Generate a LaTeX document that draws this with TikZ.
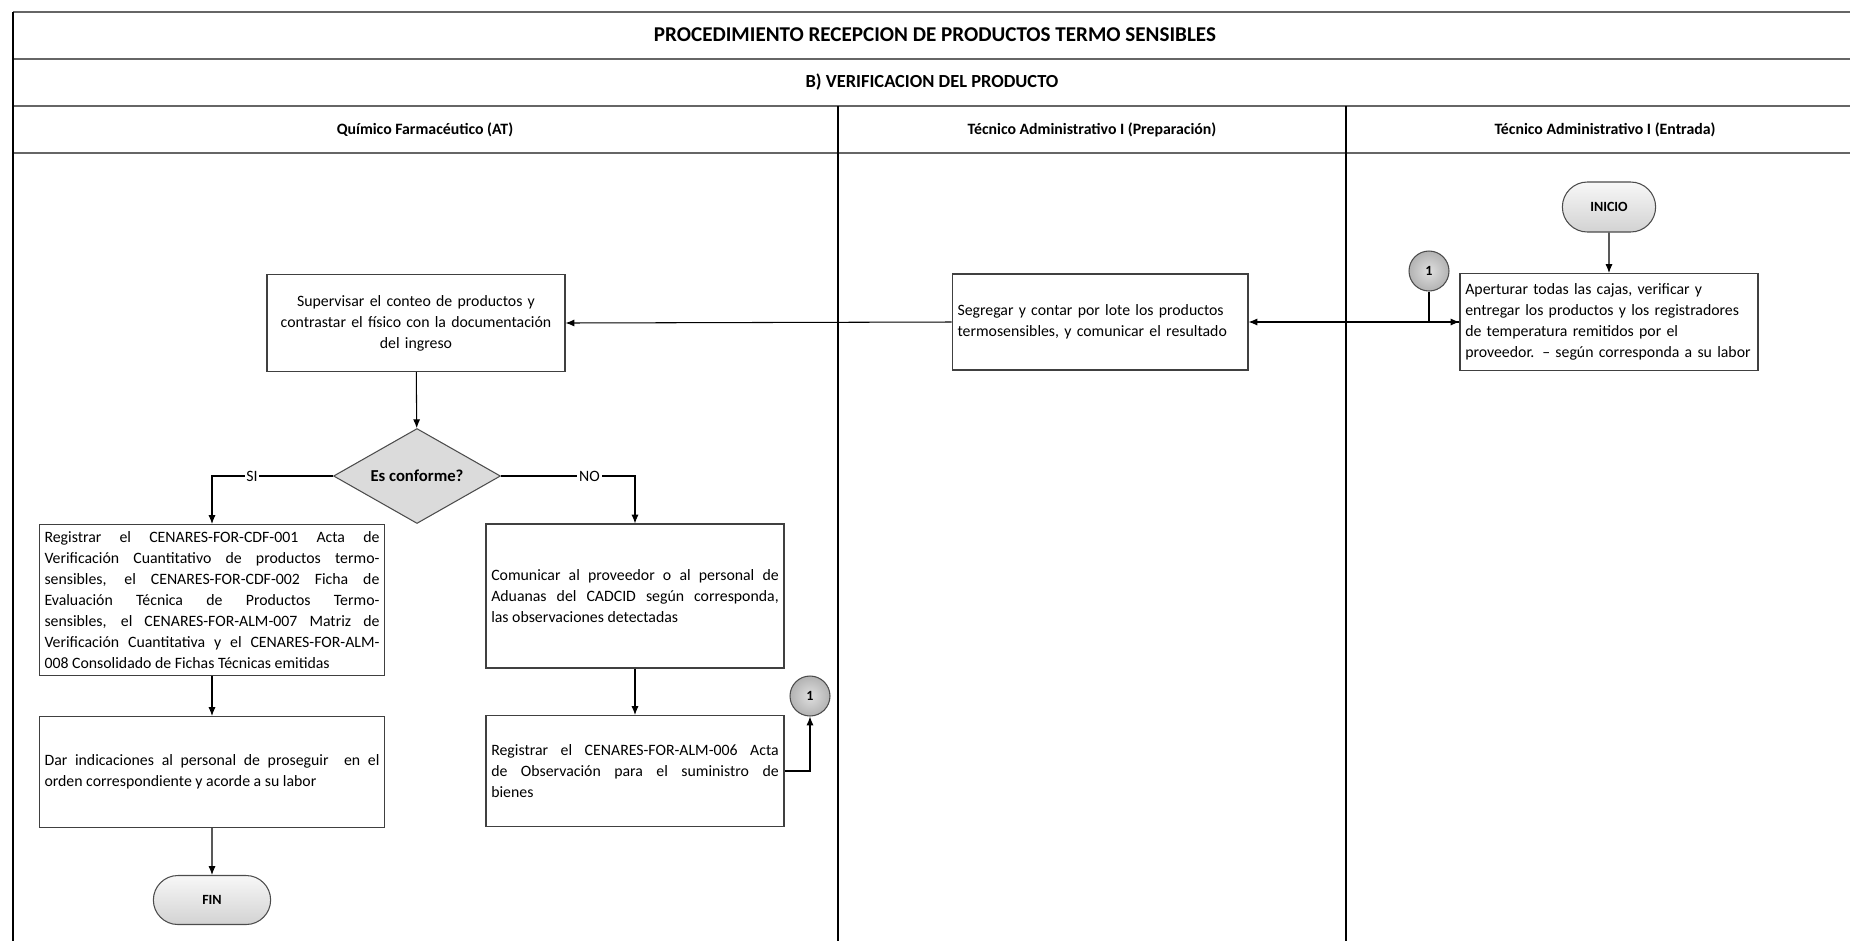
\documentclass[tikz,border=0pt]{standalone}
\usepackage{fontspec}
\setmainfont{Carlito}
\usetikzlibrary{positioning,arrows.meta,shapes.geometric,shapes.misc}

\begin{document}
\begin{tikzpicture}[x=0.02cm,y=-0.02cm,
    every node/.style={font=\fontsize{9}{12}\selectfont},
    proc/.style={draw=black!75,line width=0.6pt,inner sep=3pt},
    term/.style={rounded rectangle,draw=black!70,line width=0.6pt,top color=gray!6,bottom color=gray!35,
      font=\fontsize{8}{10}\selectfont\bfseries,minimum width=2.1cm,minimum height=1cm},
    decis/.style={diamond,aspect=1.9,draw=black!70,line width=0.6pt,fill=gray!28,inner sep=0pt,
      minimum width=3.34cm,minimum height=1.9cm},
    conn/.style={circle,draw=black!70,line width=0.6pt,inner color=gray!25,outer color=gray!60,
      minimum size=0.8cm,inner sep=0pt,font=\fontsize{8}{10}\selectfont\bfseries},
    lbl/.style={fill=white,inner sep=1pt},
    arr/.style={-{Latex[length=5pt,width=4pt]},line width=0.6pt},
    hd/.style={font=\fontsize{9}{11}\selectfont\bfseries}]
  \useasboundingbox (0,0) rectangle (1850,941);
  \foreach \y in {12,59,106,153}
    \draw[line width=1.6pt,black!60] (13,\y) -- (1850,\y);
  \draw[line width=0.9pt] (13,12) -- (13,941);
  \foreach \x in {838,1346}
    \draw[line width=0.8pt] (\x,106) -- (\x,941);
  \node[hd,font=\fontsize{12}{14}\selectfont\bfseries] (tit) at (935,35) {PROCEDIMIENTO RECEPCION DE PRODUCTOS TERMO SENSIBLES};
  \node[hd,font=\fontsize{10.5}{12}\selectfont\bfseries] (sub) at (932,82) {B) VERIFICACION DEL PRODUCTO};
  \node[hd] (lane1) at (425,130) {Químico Farmacéutico (AT)};
  \node[hd] (lane2) at (1092,130) {Técnico Administrativo I (Preparación)};
  \node[hd] (lane3) at (1605,130) {Técnico Administrativo I (Entrada)};

  \node[term] (ini) at (1609,207) {INICIO};
  \node[proc,minimum width=5.96cm,minimum height=1.94cm,text width=5.75cm,align=left] (apert) at (1609,322)
    {Aperturar todas las cajas, verificar y\\entregar los productos y los registradores\\de temperatura remitidos por el\\proveedor. -- según corresponda a su labor};
  \node[conn] (c1a) at (1429,271) {1};
  \node[proc,minimum width=5.92cm,minimum height=1.92cm,text width=5.7cm,align=left] (segr) at (1100,322)
    {Segregar y contar por lote los productos\\termosensibles, y comunicar el resultado};
  \node[proc,minimum width=5.94cm,minimum height=1.94cm,text width=5.75cm,align=center] (superv) at (416,323)
    {Supervisar el conteo de productos y\\contrastar el físico con la documentación\\del ingreso};
  \node[decis,font=\fontsize{9.5}{11}\selectfont\bfseries] (conf) at (417,476) {Es conforme?};
  \node[proc,minimum width=6.82cm,minimum height=3.02cm,text width=6.7cm,align=justify] (regA) at (212,600)
    {Registrar el CENARES-FOR-CDF-001 Acta de\linebreak Verificación Cuantitativo de productos termo-\linebreak sensibles, el CENARES-FOR-CDF-002 Ficha de\linebreak Evaluación Técnica de Productos Termo-\linebreak sensibles, el CENARES-FOR-ALM-007 Matriz de\linebreak Verificación Cuantitativa y el CENARES-FOR-ALM-\linebreak 008 Consolidado de Fichas Técnicas emitidas};
  \node[proc,minimum width=5.92cm,minimum height=2.88cm,text width=5.75cm,align=justify] (comun) at (635,596)
    {Comunicar al proveedor o al personal de\linebreak Aduanas del CADCID según corresponda,\linebreak las observaciones detectadas};
  \node[proc,minimum width=5.92cm,minimum height=2.22cm,text width=5.75cm,align=justify] (regB) at (635,771)
    {Registrar el CENARES-FOR-ALM-006 Acta\linebreak de Observación para el suministro de\linebreak bienes};
  \node[conn] (c1b) at (810,696) {1};
  \node[proc,minimum width=6.82cm,minimum height=2.22cm,text width=6.7cm,align=justify] (dar) at (212,772)
    {Dar indicaciones al personal de proseguir \ en el\linebreak orden correspondiente y acorde a su labor};
  \node[term,minimum width=2.58cm,minimum height=0.98cm] (fin) at (212,900) {FIN};

  \coordinate (si) at (conf.west -| regA.north);
  \coordinate (no) at (conf.east -| comun.north);
  \draw[arr] (ini) -- (apert);
  \draw[arr] (c1a) |- (apert.west);
  \draw[arr] (apert.west) -- (segr.east);
  \draw[arr] (segr.west) -- (superv.east);
  \draw[arr] (superv) -- (conf);
  \draw[arr] (conf.west) -- node[lbl,pos=0.67]{SI} (si) -- (regA.north);
  \draw[arr] (conf.east) -- node[lbl,pos=0.66]{NO} (no) -- (comun.north);
  \draw[arr] (comun) -- (regB);
  \draw[arr] (regB.east) -| (c1b.south);
  \draw[arr] (regA) -- (dar);
  \draw[arr] (dar) -- (fin);
\end{tikzpicture}
\end{document}
